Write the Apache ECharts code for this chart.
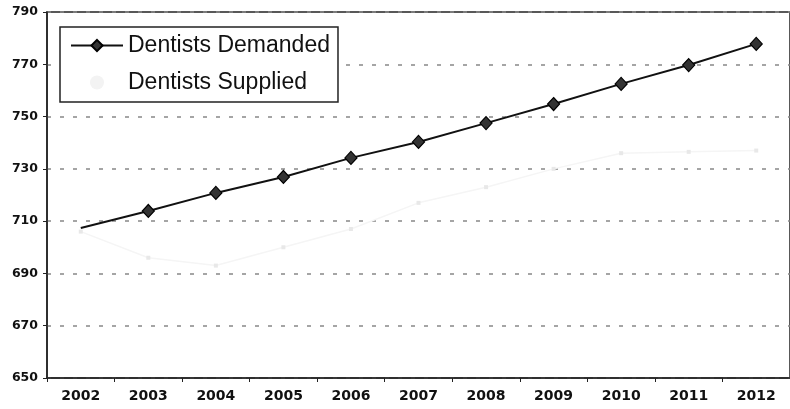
<!DOCTYPE html>
<html>
<head>
<meta charset="utf-8">
<script src="https://cdn.jsdelivr.net/npm/echarts@6/dist/echarts.min.js"></script>
<style>
  html, body { margin: 0; padding: 0; background: #fff; }
  #chart { width: 790px; height: 409px; }
</style>
</head>
<body>
<div id="chart"></div>
<script>
// values
const years = ['2002', '2003', '2004', '2005', '2006', '2007', '2008', '2009', '2010', '2011', '2012'];
const demanded = [707.4, 713.9, 720.8, 726.9, 734.2, 740.3, 747.5, 754.8, 762.5, 769.7, 777.8];
const supplied = [706, 696, 693, 700, 707, 717, 723, 730, 736, 736.5, 737];

const chart = echarts.init(document.getElementById('chart'));

const option = {
  animation: false,
  backgroundColor: '#fff',
  grid: {
    left: 47, top: 12, width: 753, height: 366,
    show: true, borderColor: '#222', borderWidth: 1.5
  },
  legend: {
    orient: 'vertical',
    left: 60, top: 27,
    padding: [7, 8, 8, 10],
    itemWidth: 52, itemHeight: 14, itemGap: 14,
    backgroundColor: '#fff',
    borderColor: '#222', borderWidth: 1.5,
    textStyle: { fontFamily: 'Liberation Sans', fontSize: 23, color: '#111' },
    data: [
      'Dentists Demanded',
      { name: 'Dentists Supplied', icon: 'circle', itemStyle: { color: '#f3f3f3' } }
    ]
  },
  xAxis: {
    type: 'category',
    data: years,
    boundaryGap: true,
    axisLine: { lineStyle: { color: '#222', width: 1.5 } },
    axisTick: { show: true, length: 4, lineStyle: { color: '#222' } },
    axisLabel: { fontFamily: 'DejaVu Sans', fontWeight: 'bold', fontSize: 14, color: '#111', margin: 11 }
  },
  yAxis: {
    type: 'value',
    min: 650, max: 790, interval: 20,
    axisLine: { show: true, lineStyle: { color: '#222', width: 1.5 } },
    axisTick: { show: true, length: 4, lineStyle: { color: '#222' } },
    axisLabel: { fontFamily: 'DejaVu Sans', fontWeight: 'bold', fontSize: 12.5, color: '#111', margin: 9 },
    splitLine: { lineStyle: { color: '#888', width: 1.5, type: [4, 9] } }
  },
  series: [
    {
      name: 'Dentists Demanded',
      type: 'line',
      data: demanded.map((v, i) => i === 0 ? { value: v, symbol: 'none' } : v),
      symbol: 'diamond',
      symbolSize: [12, 13],
      lineStyle: { color: '#111', width: 2 },
      itemStyle: { color: '#333', borderColor: '#000', borderWidth: 1.2 },
      z: 3
    },
    {
      name: 'Dentists Supplied',
      type: 'line',
      data: supplied,
      symbol: 'rect',
      symbolSize: 4,
      lineStyle: { color: '#f5f5f5', width: 1.5 },
      itemStyle: { color: '#e8e8e8' },
      z: 2
    }
  ]
};

chart.setOption(option);
</script>
</body>
</html>
